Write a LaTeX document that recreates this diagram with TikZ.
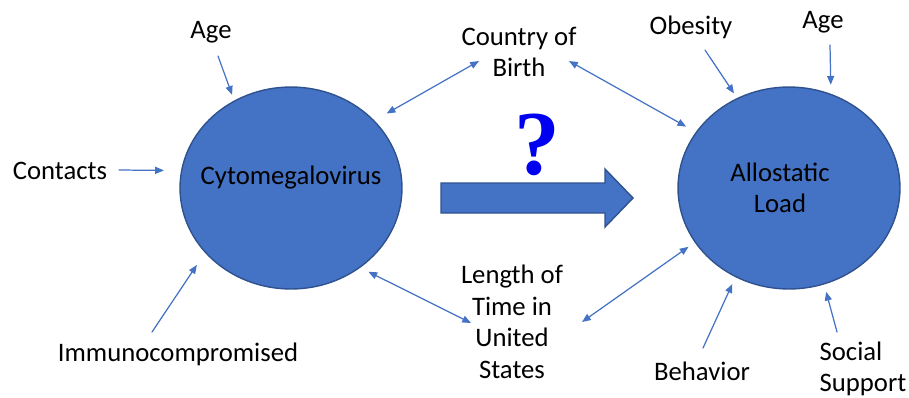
\documentclass[tikz,border=0pt]{standalone}
\usepackage{fontspec}
\setmainfont{Carlito}
\newfontfamily\qfont{Liberation Serif}
\usetikzlibrary{arrows.meta,shapes.geometric}
\definecolor{blobblue}{HTML}{4472C4}
\definecolor{blobedge}{HTML}{2F528F}
\definecolor{qblue}{HTML}{0000F0}
\begin{document}
\begin{tikzpicture}[x=0.02cm,y=-0.02cm,line cap=round,line join=round,
    >={Triangle[length=5pt,width=4pt]},font=\fontsize{15.2}{18}\selectfont,
    blob/.style={ellipse,draw=blobedge,fill=blobblue,line width=0.8pt,
        minimum width=4.44cm,minimum height=4.04cm,inner sep=0pt},
    lbl/.style={inner sep=0pt,align=center},
    link/.style={->,blobblue,line width=0.7pt}]
    \useasboundingbox (0,0) rectangle (909,397);
    % the two outcomes
    \node[blob] (cmv) at (291,188) {};
    \node[blob] (al) at (789,188) {};
    \node[lbl] (cmvtxt) at (291,178) {Cytomegalovirus};
    \node[lbl] (altxt) at (780,188) {Allostatic\\Load};
    % factors
    \node[lbl] (ageL) at (211,32) {Age};
    \node[lbl] (contacts) at (60,171) {Contacts};
    \node[lbl] (immuno) at (178,354) {Immunocompromised};
    \node[lbl] (cob) at (519,52) {Country of\\Birth};
    \node[lbl] (length) at (512,322) {Length of\\Time in\\United\\States};
    \node[lbl] (obesity) at (691,27) {Obesity};
    \node[lbl] (ageR) at (823,22) {Age};
    \node[lbl] (behavior) at (702,371) {Behavior};
    \node[lbl,align=left] (social) at (863,369) {Social\\Support};
    % big arrow and question
    \draw[blobedge,fill=blobblue,line width=0.8pt,line join=miter]
        (441,183) -- (605,183) -- (605,169) -- (633,198) -- (605,227) -- (605,213) -- (441,213) -- cycle;
    \node[text=qblue,font=\qfont\bfseries\fontsize{52}{52}\selectfont,anchor=base,inner sep=0pt] (qm) at (537,174) {?};
    % links
    \draw[link,shorten >=0.12cm] ([shift={(7,24)}]ageL.center) -- (cmv.123);
    \draw[link,shorten >=0.34cm] ([shift={(59,-1)}]contacts.center) -- (cmv.171);
    \draw[link,shorten >=0.29cm] ([shift={(-26,-22)}]immuno.center) -- (cmv.217);
    \draw[link,<->,shorten >=0.28cm] ([shift={(-40,9)}]cob.center) -- (cmv.39);
    \draw[link,<->,shorten >=0.22cm] ([shift={(50,9)}]cob.center) -- (al.149);
    \draw[link,<->,shorten >=0.18cm] ([shift={(-41,1)}]length.center) -- (cmv.311);
    \draw[link,<->,shorten >=0.15cm] ([shift={(70,0)}]length.center) -- (al.210);
    \draw[link,shorten >=0.11cm] ([shift={(14,23)}]obesity.center) -- (al.120);
    \draw[link,shorten >=0.18cm] ([shift={(7,23)}]ageR.center) -- (al.66);
    \draw[link,shorten >=0.15cm] ([shift={(1,-23)}]behavior.center) -- (al.239);
    \draw[link,shorten >=0.15cm] ([shift={(-26,-37)}]social.center) -- (al.290);
\end{tikzpicture}
\end{document}
